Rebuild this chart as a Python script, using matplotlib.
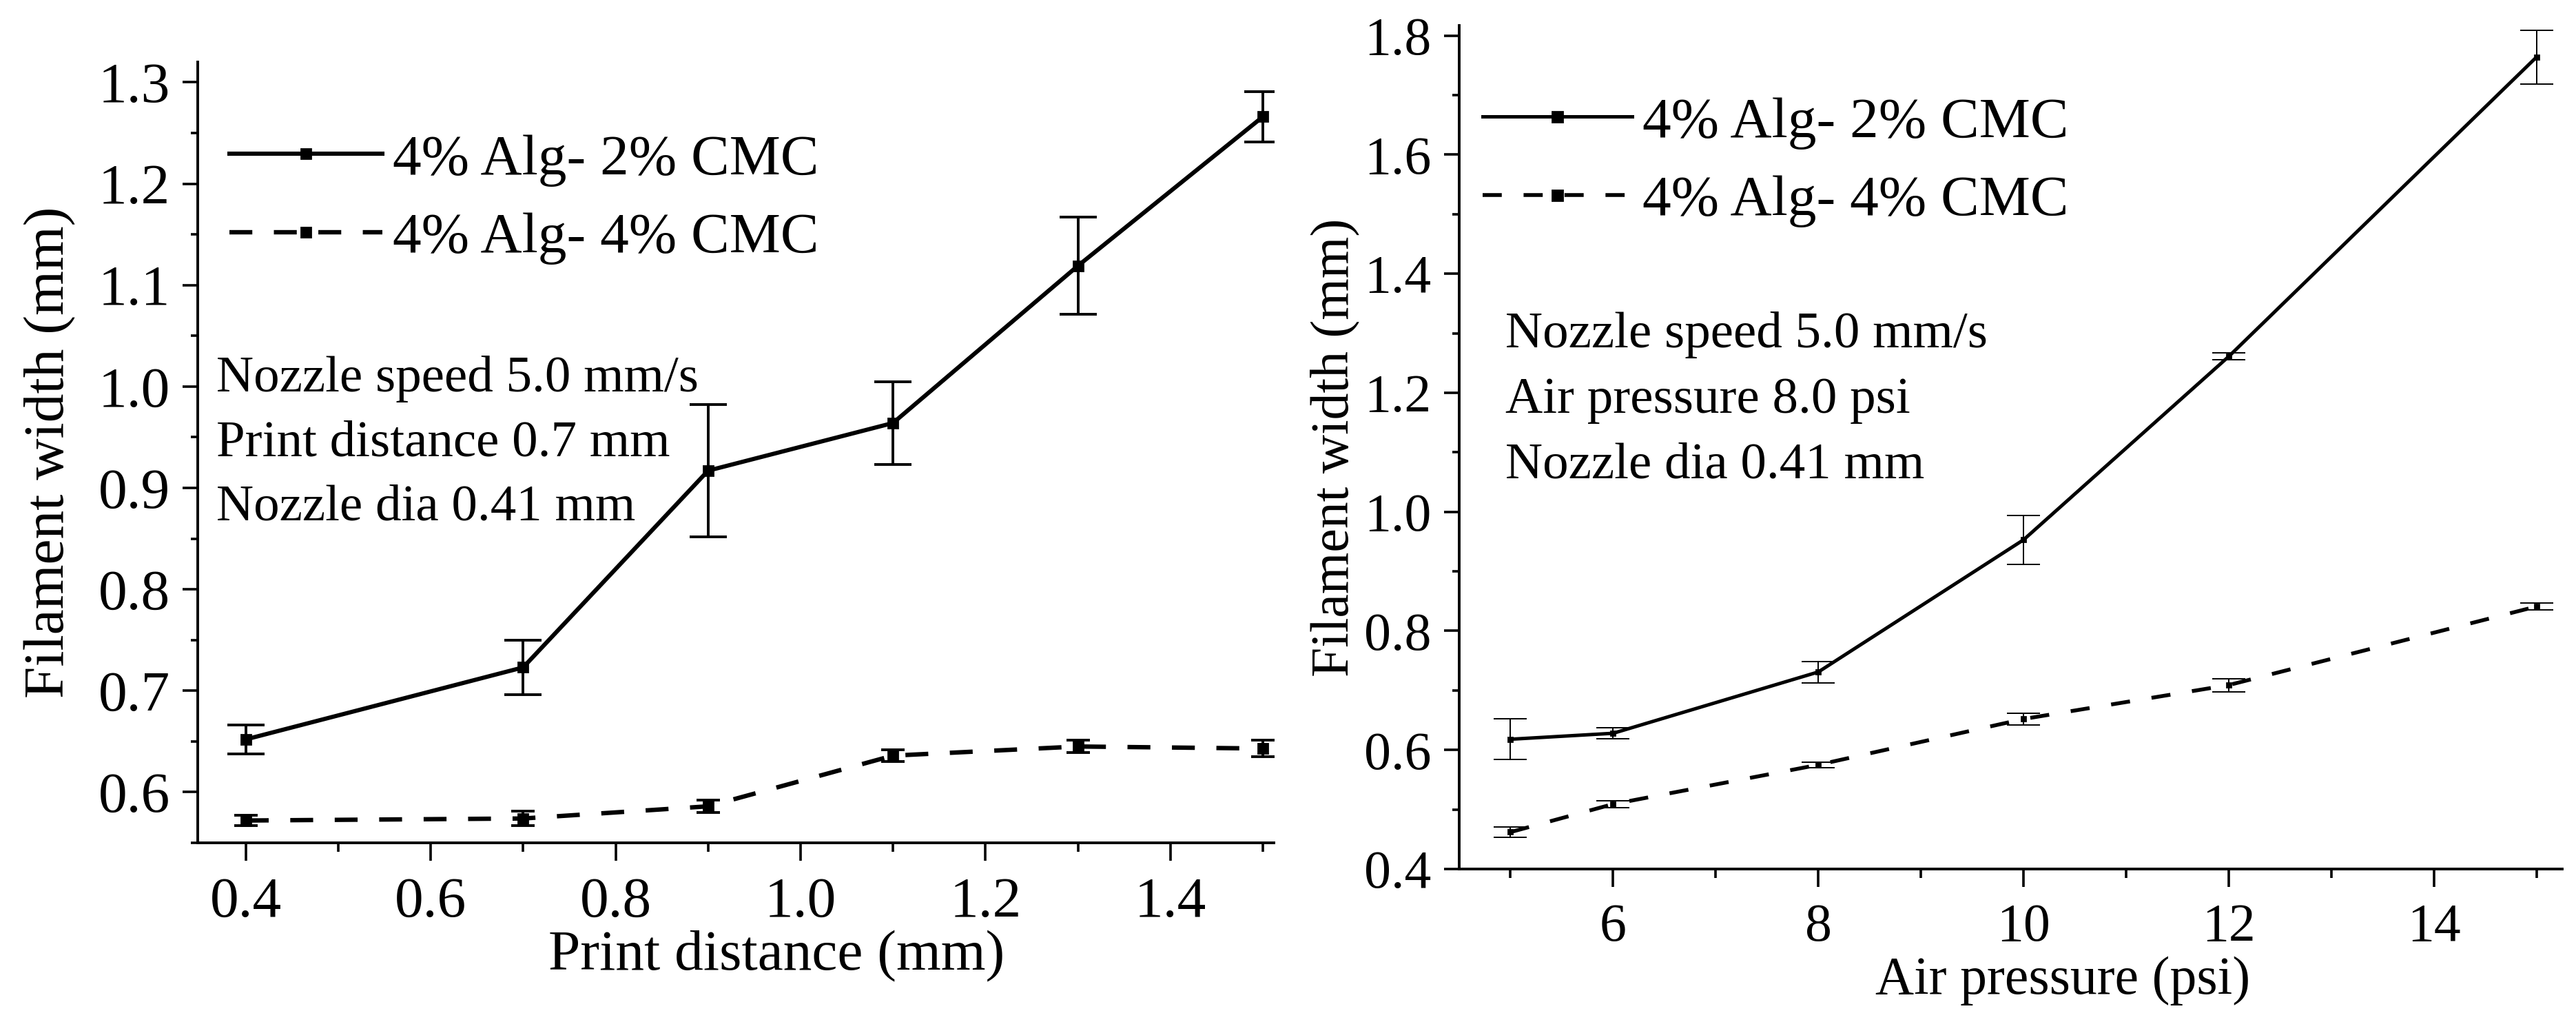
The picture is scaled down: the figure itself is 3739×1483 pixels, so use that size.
import matplotlib
matplotlib.use("Agg")
import matplotlib.pyplot as plt
from matplotlib.lines import Line2D
from matplotlib.ticker import MultipleLocator, FormatStrFormatter

plt.rcParams['font.family'] = ['Liberation Serif', 'DejaVu Serif']

# left panel: filament width vs print distance
dist = [0.4, 0.7, 0.9, 1.1, 1.3, 1.5]
dist_cmc2 = [0.652, 0.723, 0.917, 0.964, 1.119, 1.266]
dist_cmc2_err = [0.014, 0.027, 0.065, 0.041, 0.048, 0.025]
dist_cmc4 = [0.572, 0.574, 0.586, 0.636, 0.645, 0.643]
dist_cmc4_err = [0.005, 0.007, 0.006, 0.006, 0.006, 0.008]

# right panel: filament width vs air pressure
pres = [5, 6, 8, 10, 12, 15]
pres_cmc2 = [0.618, 0.628, 0.731, 0.953, 1.261, 1.764]
pres_cmc2_err = [0.034, 0.009, 0.018, 0.041, 0.006, 0.045]
pres_cmc4 = [0.462, 0.509, 0.575, 0.652, 0.709, 0.841]
pres_cmc4_err = [0.009, 0.006, 0.005, 0.010, 0.011, 0.006]

labels = ['4% Alg- 2% CMC', '4% Alg- 4% CMC']
notes_left = ['Nozzle speed 5.0 mm/s', 'Print distance 0.7 mm', 'Nozzle dia 0.41 mm']
notes_right = ['Nozzle speed 5.0 mm/s', 'Air pressure 8.0 psi', 'Nozzle dia 0.41 mm']

fig = plt.figure(figsize=(3739 / 200, 1483 / 200), dpi=200)
ax1 = fig.add_axes([0.07676, 0.17532, 0.41776, 0.76399])
ax2 = fig.add_axes([0.56646, 0.14970, 0.42819, 0.82535])


def style_axes(ax, tick_fs):
    for s in ['top', 'right']:
        ax.spines[s].set_visible(False)
    for s in ['left', 'bottom']:
        ax.spines[s].set_linewidth(1.4)
    ax.tick_params(axis='both', which='major', direction='out', width=1.3,
                   labelsize=tick_fs)
    ax.tick_params(axis='x', which='major', length=9.2, pad=8.5)
    ax.tick_params(axis='y', which='major', length=8, pad=6.5)
    ax.tick_params(axis='x', which='minor', direction='out', length=4.8, width=1.3)
    ax.tick_params(axis='y', which='minor', direction='out', length=3.6, width=1.3)


# ---- left
dash_l = (0, (5.2, 4.9))
ax1.errorbar(dist, dist_cmc2, yerr=dist_cmc2_err, fmt='none', ecolor='k',
             elinewidth=1.4, capsize=9.6, capthick=1.4)
ax1.errorbar(dist, dist_cmc4, yerr=dist_cmc4_err, fmt='none', ecolor='k',
             elinewidth=1.4, capsize=6, capthick=1.4)
ax1.plot(dist, dist_cmc2, color='k', lw=2.2, marker='s', ms=4.8)
ax1.plot(dist, dist_cmc4, color='k', lw=2.3, ls=dash_l, marker='s', ms=4.8)

ax1.set_xlim(0.348, 1.512)
ax1.set_ylim(0.55, 1.32)
ax1.xaxis.set_major_locator(MultipleLocator(0.2))
ax1.xaxis.set_minor_locator(MultipleLocator(0.1))
ax1.yaxis.set_major_locator(MultipleLocator(0.1))
ax1.yaxis.set_minor_locator(MultipleLocator(0.05))
ax1.xaxis.set_major_formatter(FormatStrFormatter('%.1f'))
ax1.yaxis.set_major_formatter(FormatStrFormatter('%.1f'))
style_axes(ax1, 30)
ax1.set_xlabel('Print distance (mm)', fontsize=30)
ax1.set_ylabel('Filament width (mm)', fontsize=30)
ax1.xaxis.set_label_coords(0.538, -0.112)
ax1.yaxis.set_label_coords(-0.113, 0.5)

h1 = [Line2D([], [], color='k', lw=2.2, marker='s', ms=4.8),
      Line2D([], [], color='k', lw=2.3, ls=dash_l, marker='s', ms=4.8)]
ax1.legend(h1, labels, loc='center left', bbox_to_anchor=(0.0294, 0.824),
           frameon=False, fontsize=30, borderpad=0, borderaxespad=0,
           handlelength=2.66, handletextpad=0.19, labelspacing=0.45)

for i, line in enumerate(notes_left):
    ax1.text(0.0173, 0.5781 - i * 0.0821, line, transform=ax1.transAxes,
             fontsize=27, ha='left', va='baseline')

# ---- right
dash_r = (0, (5.0, 5.7))
ax2.errorbar(pres, pres_cmc2, yerr=pres_cmc2_err, fmt='none', ecolor='k',
             elinewidth=0.7, capsize=8.7, capthick=0.7)
ax2.errorbar(pres, pres_cmc4, yerr=pres_cmc4_err, fmt='none', ecolor='k',
             elinewidth=0.7, capsize=8.7, capthick=0.7)
ax2.plot(pres, pres_cmc2, color='k', lw=1.8, marker='s', ms=2.5)
ax2.plot(pres, pres_cmc4, color='k', lw=2.0, ls=dash_r, marker='s', ms=2.5)

ax2.set_xlim(4.5, 15.25)
ax2.set_ylim(0.4, 1.817)
ax2.xaxis.set_major_locator(MultipleLocator(2))
ax2.xaxis.set_minor_locator(MultipleLocator(1))
ax2.yaxis.set_major_locator(MultipleLocator(0.2))
ax2.yaxis.set_minor_locator(MultipleLocator(0.1))
ax2.yaxis.set_major_formatter(FormatStrFormatter('%.1f'))
style_axes(ax2, 28)
ax2.set_xlabel('Air pressure (psi)', fontsize=28)
ax2.set_ylabel('Filament width (mm)', fontsize=28)
ax2.xaxis.set_label_coords(0.547, -0.103)
ax2.yaxis.set_label_coords(-0.0906, 0.5)

h2 = [Line2D([], [], color='k', lw=1.8, marker='s', ms=5.4),
      Line2D([], [], color='k', lw=2.0, ls=dash_r, marker='s', ms=5.4)]
ax2.legend(h2, labels, loc='center left', bbox_to_anchor=(0.0212, 0.838),
           frameon=False, fontsize=30, borderpad=0, borderaxespad=0,
           handlelength=2.6, handletextpad=0.18, labelspacing=0.45)

for i, line in enumerate(notes_right):
    ax2.text(0.0418, 0.6185 - i * 0.0776, line, transform=ax2.transAxes,
             fontsize=27, ha='left', va='baseline')

fig.savefig('out.png', dpi=200)
